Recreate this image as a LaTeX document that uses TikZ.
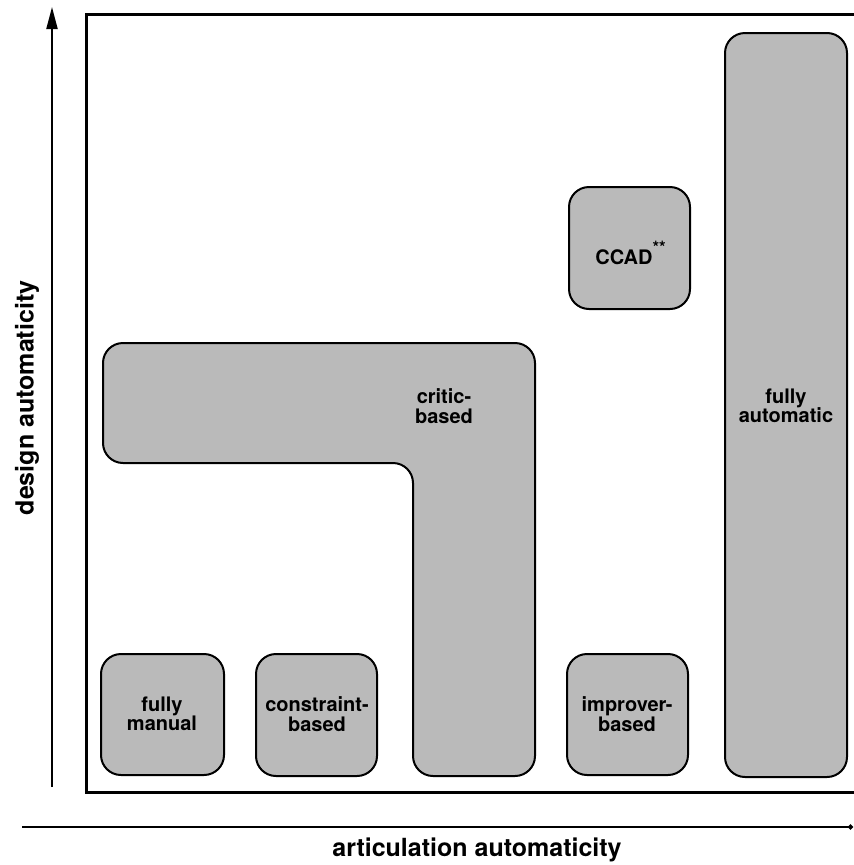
\documentclass[tikz,border=0pt]{standalone}
\usepackage{fontspec}
\setmainfont{TeX Gyre Heros}
\usetikzlibrary{arrows.meta}
\tikzset{
  blob/.style={draw=black, line width=2pt, fill=black!27, rounded corners=20pt},
  lbl/.style={font=\bfseries\fontsize{20}{19.5}\selectfont, align=center, inner sep=0pt},
  axlbl/.style={font=\bfseries\fontsize{25}{27}\selectfont, inner sep=0pt},
  frame/.style={line width=3pt, line join=miter},
  axis/.style={line width=2pt}
}
\begin{document}
\begin{tikzpicture}[x=1pt,y=-1pt]
\useasboundingbox (0,0) rectangle (854,865);
% frame
\draw[frame] (854,14) -- (86,14) -- (86,792) -- (854,792);
% axes
\coordinate (ybot) at (52,787);
\coordinate (ytop) at (52,7);
\coordinate (xl) at (22,827);
\coordinate (xr) at (853,827);
\draw[axis,-{Triangle[length=22pt,width=11pt]}] (ybot) -- (ytop);
\draw[axis,-{Circle[length=5pt]}] (xl) -- (xr);
\node[axlbl, rotate=90] (ylab) at (27,398) {design automaticity};
\node[axlbl] (xlab) at (477,850) {articulation automaticity};
% boxes
\draw[blob] (101,654) rectangle (224,775);
\draw[blob] (256,654) rectangle (377,776);
\draw[blob] (103,343) -- (535,343) -- (535,776) -- (413,776) -- (413,463) -- (103,463) -- cycle;
\draw[blob] (569,187) rectangle (690,309);
\draw[blob] (567,654) rectangle (688,775);
\draw[blob] (725,33) rectangle (847,777);
% labels
\node[lbl] (fm) at (162,714) {fully\\manual};
\node[lbl] (cb) at (317,714) {constraint-\\based};
\node[lbl] (crb) at (444,406) {critic-\\based};
\node[lbl] (ccad) at (624,253) {CCAD\rlap{\raisebox{11pt}{\fontsize{17}{17}\selectfont**}}};
\node[lbl] (ib) at (627,714) {improver-\\based};
\node[lbl] (fa) at (786,406) {fully\\automatic};
\end{tikzpicture}
\end{document}
